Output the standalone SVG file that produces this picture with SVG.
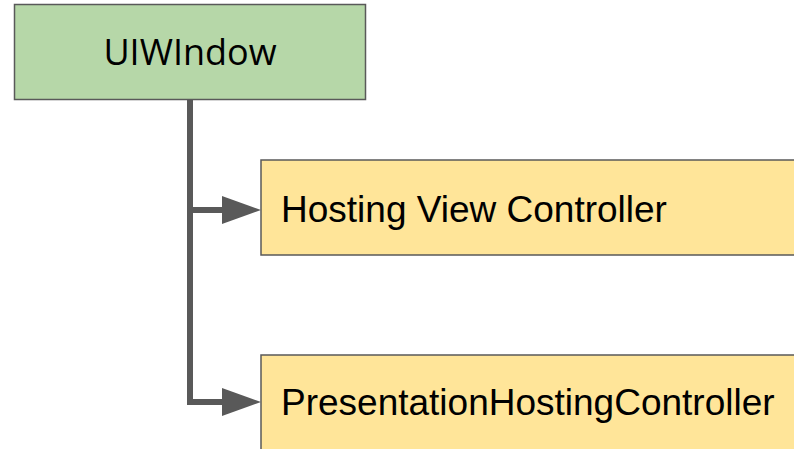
<svg xmlns="http://www.w3.org/2000/svg" width="794" height="449" viewBox="0 0 794 449">
<defs>
<style>
.box{stroke:#595959;stroke-width:1.5}
.green{fill:#b6d7a8}
.yellow{fill:#ffe599}
.t{font-family:"Liberation Sans",Arial,sans-serif;font-size:37px;fill:#000}
.t2{font-family:"Open Sans","Liberation Sans",sans-serif;font-size:36px;fill:#000}
.c{fill:none;stroke:#595959;stroke-width:6}
</style>
<marker id="ah" markerUnits="userSpaceOnUse" markerWidth="40" markerHeight="30" refX="0" refY="14" orient="auto" overflow="visible">
<path d="M0,0 L39,14 L0,28 Z" fill="#595959"/>
</marker>
</defs>
<g id="connectors">
<path class="c" d="M190,100 V210 H222" marker-end="url(#ah)"/>
<path class="c" d="M190,205 V402 H222" marker-end="url(#ah)"/>
</g>
<g id="uiwindow">
<rect class="box green" x="14.5" y="4.5" width="351" height="95"/>
<text class="t2" x="190" y="65" text-anchor="middle">UIWIndow</text>
</g>
<g id="hosting-view-controller">
<rect class="box yellow" x="261" y="160" width="540" height="95"/>
<text class="t" x="281" y="222">Hosting View Controller</text>
</g>
<g id="presentation-hosting-controller">
<rect class="box yellow" x="261" y="355" width="540" height="120"/>
<text class="t" x="281" y="415">PresentationHostingController</text>
</g>
</svg>
